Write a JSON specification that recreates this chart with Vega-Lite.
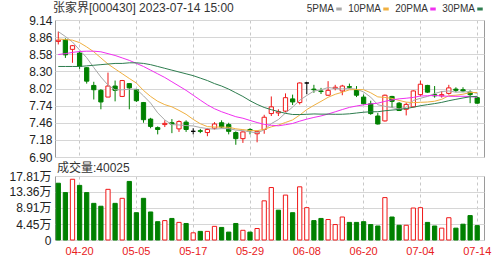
{
  "$schema": "https://vega.github.io/schema/vega-lite/v6.json",
  "background": "white",
  "padding": {"left": 4, "top": 1, "right": 20, "bottom": 2},
  "spacing": -3,
  "config": {
    "font": "Liberation Sans, Noto Sans CJK SC",
    "view": {"stroke": "#9a9a9a", "strokeWidth": 1},
    "axis": {"labelFont": "Liberation Sans, Noto Sans CJK SC", "labelColor": "#222222", "gridColor": "#d6d6d6", "gridWidth": 1, "labelOverlap": false},
    "title": {"font": "Liberation Sans, Noto Sans CJK SC", "fontWeight": "normal", "fontSize": 12, "color": "#333333"},
    "legend": {"labelFont": "Liberation Sans"}
  },
  "datasets": {
    "k": [
      {"d": "04-17", "o": 8.79, "h": 8.95, "l": 8.74, "c": 8.81, "dir": "up", "v": 15.8, "vdir": "down", "5PMA": 8.95, "10PMA": 8.83, "20PMA": 8.575, "30PMA": 8.38},
      {"d": "04-18", "o": 8.82, "h": 8.84, "l": 8.52, "c": 8.57, "dir": "down", "v": 13.2, "vdir": "down", "5PMA": 8.87, "10PMA": 8.82, "20PMA": 8.59, "30PMA": 8.38},
      {"d": "04-19", "o": 8.66, "h": 8.73, "l": 8.44, "c": 8.72, "dir": "up", "v": 16.9, "vdir": "up", "5PMA": 8.78, "10PMA": 8.81, "20PMA": 8.61, "30PMA": 8.38},
      {"d": "04-20", "o": 8.60, "h": 8.63, "l": 8.34, "c": 8.38, "dir": "down", "v": 15.2, "vdir": "down", "5PMA": 8.65, "10PMA": 8.77, "20PMA": 8.625, "30PMA": 8.38},
      {"d": "04-21", "o": 8.36, "h": 8.37, "l": 8.10, "c": 8.14, "dir": "down", "v": 13.2, "vdir": "down", "5PMA": 8.524, "10PMA": 8.70, "20PMA": 8.63, "30PMA": 8.39},
      {"d": "04-24", "o": 8.07, "h": 8.13, "l": 7.84, "c": 8.00, "dir": "down", "v": 10.2, "vdir": "down", "5PMA": 8.362, "10PMA": 8.62, "20PMA": 8.63, "30PMA": 8.40},
      {"d": "04-25", "o": 7.99, "h": 8.01, "l": 7.68, "c": 7.80, "dir": "down", "v": 9.4, "vdir": "down", "5PMA": 8.208, "10PMA": 8.52, "20PMA": 8.62, "30PMA": 8.41},
      {"d": "04-26", "o": 7.88, "h": 8.28, "l": 7.88, "c": 8.06, "dir": "up", "v": 14.1, "vdir": "up", "5PMA": 8.076, "10PMA": 8.42, "20PMA": 8.59, "30PMA": 8.42},
      {"d": "04-27", "o": 8.06, "h": 8.15, "l": 7.81, "c": 7.99, "dir": "down", "v": 10.2, "vdir": "down", "5PMA": 7.998, "10PMA": 8.34, "20PMA": 8.56, "30PMA": 8.43},
      {"d": "04-28", "o": 7.89, "h": 8.16, "l": 7.88, "c": 8.15, "dir": "up", "v": 11.6, "vdir": "up", "5PMA": 8.00, "10PMA": 8.262, "20PMA": 8.52, "30PMA": 8.43},
      {"d": "05-04", "o": 8.10, "h": 8.11, "l": 7.68, "c": 8.03, "dir": "down", "v": 16.3, "vdir": "down", "5PMA": 8.006, "10PMA": 8.184, "20PMA": 8.48, "30PMA": 8.44},
      {"d": "05-05", "o": 8.00, "h": 8.01, "l": 7.80, "c": 7.82, "dir": "down", "v": 7.6, "vdir": "down", "5PMA": 8.01, "10PMA": 8.109, "20PMA": 8.43, "30PMA": 8.44},
      {"d": "05-08", "o": 7.79, "h": 7.80, "l": 7.46, "c": 7.51, "dir": "down", "v": 11.6, "vdir": "down", "5PMA": 7.90, "10PMA": 7.988, "20PMA": 8.38, "30PMA": 8.43},
      {"d": "05-09", "o": 7.52, "h": 7.54, "l": 7.37, "c": 7.40, "dir": "down", "v": 7.8, "vdir": "down", "5PMA": 7.782, "10PMA": 7.89, "20PMA": 8.32, "30PMA": 8.41},
      {"d": "05-10", "o": 7.38, "h": 7.40, "l": 7.27, "c": 7.35, "dir": "down", "v": 5.1, "vdir": "down", "5PMA": 7.622, "10PMA": 7.811, "20PMA": 8.26, "30PMA": 8.38},
      {"d": "05-11", "o": 7.43, "h": 7.50, "l": 7.39, "c": 7.45, "dir": "up", "v": 5.4, "vdir": "up", "5PMA": 7.506, "10PMA": 7.756, "20PMA": 8.20, "30PMA": 8.35},
      {"d": "05-12", "o": 7.46, "h": 7.52, "l": 7.29, "c": 7.44, "dir": "down", "v": 6.0, "vdir": "down", "5PMA": 7.43, "10PMA": 7.72, "20PMA": 8.13, "30PMA": 8.32},
      {"d": "05-15", "o": 7.36, "h": 7.50, "l": 7.31, "c": 7.48, "dir": "up", "v": 4.9, "vdir": "up", "5PMA": 7.424, "10PMA": 7.662, "20PMA": 8.06, "30PMA": 8.29},
      {"d": "05-16", "o": 7.47, "h": 7.50, "l": 7.31, "c": 7.35, "dir": "down", "v": 4.6, "vdir": "down", "5PMA": 7.414, "10PMA": 7.598, "20PMA": 7.99, "30PMA": 8.26},
      {"d": "05-17", "o": 7.32, "h": 7.37, "l": 7.27, "c": 7.32, "dir": "flat", "v": 2.0, "vdir": "up", "5PMA": 7.408, "10PMA": 7.515, "20PMA": 7.91, "30PMA": 8.23},
      {"d": "05-18", "o": 7.33, "h": 7.36, "l": 7.29, "c": 7.32, "dir": "down", "v": 2.4, "vdir": "down", "5PMA": 7.382, "10PMA": 7.444, "20PMA": 7.83, "30PMA": 8.19},
      {"d": "05-19", "o": 7.30, "h": 7.37, "l": 7.24, "c": 7.35, "dir": "up", "v": 2.4, "vdir": "up", "5PMA": 7.364, "10PMA": 7.397, "20PMA": 7.753, "30PMA": 8.15},
      {"d": "05-22", "o": 7.37, "h": 7.47, "l": 7.35, "c": 7.44, "dir": "up", "v": 3.8, "vdir": "up", "5PMA": 7.356, "10PMA": 7.39, "20PMA": 7.689, "30PMA": 8.10},
      {"d": "05-23", "o": 7.46, "h": 7.50, "l": 7.37, "c": 7.39, "dir": "down", "v": 3.5, "vdir": "down", "5PMA": 7.364, "10PMA": 7.389, "20PMA": 7.64, "30PMA": 8.06},
      {"d": "05-24", "o": 7.43, "h": 7.46, "l": 7.27, "c": 7.32, "dir": "down", "v": 2.2, "vdir": "down", "5PMA": 7.364, "10PMA": 7.386, "20PMA": 7.599, "30PMA": 8.01},
      {"d": "05-25", "o": 7.30, "h": 7.32, "l": 7.10, "c": 7.20, "dir": "down", "v": 4.6, "vdir": "down", "5PMA": 7.34, "10PMA": 7.361, "20PMA": 7.559, "30PMA": 7.95},
      {"d": "05-26", "o": 7.20, "h": 7.32, "l": 7.13, "c": 7.31, "dir": "up", "v": 2.7, "vdir": "up", "5PMA": 7.332, "10PMA": 7.348, "20PMA": 7.534, "30PMA": 7.89},
      {"d": "05-29", "o": 7.35, "h": 7.37, "l": 7.27, "c": 7.33, "dir": "down", "v": 2.2, "vdir": "down", "5PMA": 7.31, "10PMA": 7.333, "20PMA": 7.498, "30PMA": 7.82},
      {"d": "05-30", "o": 7.28, "h": 7.33, "l": 7.14, "c": 7.32, "dir": "up", "v": 3.2, "vdir": "up", "5PMA": 7.296, "10PMA": 7.33, "20PMA": 7.464, "30PMA": 7.76},
      {"d": "05-31", "o": 7.35, "h": 7.59, "l": 7.28, "c": 7.55, "dir": "up", "v": 10.9, "vdir": "up", "5PMA": 7.342, "10PMA": 7.353, "20PMA": 7.434, "30PMA": 7.71},
      {"d": "06-01", "o": 7.61, "h": 7.89, "l": 7.57, "c": 7.72, "dir": "up", "v": 14.6, "vdir": "up", "5PMA": 7.446, "10PMA": 7.393, "20PMA": 7.419, "30PMA": 7.674},
      {"d": "06-02", "o": 7.62, "h": 7.68, "l": 7.57, "c": 7.64, "dir": "up", "v": 8.3, "vdir": "down", "5PMA": 7.512, "10PMA": 7.422, "20PMA": 7.41, "30PMA": 7.643},
      {"d": "06-05", "o": 7.65, "h": 7.94, "l": 7.63, "c": 7.87, "dir": "up", "v": 12.5, "vdir": "up", "5PMA": 7.62, "10PMA": 7.465, "20PMA": 7.428, "30PMA": 7.614},
      {"d": "06-06", "o": 7.85, "h": 7.92, "l": 7.75, "c": 7.80, "dir": "down", "v": 7.6, "vdir": "down", "5PMA": 7.716, "10PMA": 7.506, "20PMA": 7.448, "30PMA": 7.595},
      {"d": "06-07", "o": 7.79, "h": 8.12, "l": 7.76, "c": 8.11, "dir": "up", "v": 14.8, "vdir": "up", "5PMA": 7.828, "10PMA": 7.585, "20PMA": 7.486, "30PMA": 7.594},
      {"d": "06-08", "o": 8.11, "h": 8.12, "l": 7.93, "c": 8.11, "dir": "flat", "v": 9.0, "vdir": "up", "5PMA": 7.906, "10PMA": 7.676, "20PMA": 7.519, "30PMA": 7.598},
      {"d": "06-09", "o": 8.01, "h": 8.08, "l": 7.95, "c": 8.00, "dir": "down", "v": 5.4, "vdir": "down", "5PMA": 7.978, "10PMA": 7.745, "20PMA": 7.547, "30PMA": 7.604},
      {"d": "06-12", "o": 7.98, "h": 8.03, "l": 7.93, "c": 7.97, "dir": "down", "v": 6.0, "vdir": "down", "5PMA": 7.998, "10PMA": 7.809, "20PMA": 7.571, "30PMA": 7.601},
      {"d": "06-13", "o": 7.91, "h": 8.14, "l": 7.90, "c": 7.99, "dir": "up", "v": 5.7, "vdir": "up", "5PMA": 8.036, "10PMA": 7.876, "20PMA": 7.603, "30PMA": 7.601},
      {"d": "06-14", "o": 8.02, "h": 8.08, "l": 7.99, "c": 8.04, "dir": "up", "v": 4.3, "vdir": "up", "5PMA": 8.022, "10PMA": 7.925, "20PMA": 7.639, "30PMA": 7.598},
      {"d": "06-15", "o": 7.98, "h": 8.08, "l": 7.91, "c": 8.06, "dir": "up", "v": 6.4, "vdir": "up", "5PMA": 8.012, "10PMA": 7.959, "20PMA": 7.676, "30PMA": 7.599},
      {"d": "06-16", "o": 8.05, "h": 8.10, "l": 8.02, "c": 8.04, "dir": "down", "v": 4.9, "vdir": "down", "5PMA": 8.02, "10PMA": 7.999, "20PMA": 7.711, "30PMA": 7.606},
      {"d": "06-19", "o": 8.00, "h": 8.06, "l": 7.88, "c": 7.91, "dir": "down", "v": 4.9, "vdir": "down", "5PMA": 8.008, "10PMA": 8.003, "20PMA": 7.734, "30PMA": 7.619},
      {"d": "06-20", "o": 7.88, "h": 7.92, "l": 7.76, "c": 7.77, "dir": "down", "v": 5.1, "vdir": "down", "5PMA": 7.964, "10PMA": 8.00, "20PMA": 7.753, "30PMA": 7.632},
      {"d": "06-21", "o": 7.77, "h": 7.82, "l": 7.59, "c": 7.61, "dir": "down", "v": 4.3, "vdir": "down", "5PMA": 7.878, "10PMA": 7.95, "20PMA": 7.768, "30PMA": 7.64},
      {"d": "06-26", "o": 7.57, "h": 7.62, "l": 7.43, "c": 7.44, "dir": "down", "v": 3.9, "vdir": "down", "5PMA": 7.754, "10PMA": 7.883, "20PMA": 7.78, "30PMA": 7.64},
      {"d": "06-27", "o": 7.49, "h": 7.92, "l": 7.48, "c": 7.91, "dir": "up", "v": 11.8, "vdir": "up", "5PMA": 7.728, "10PMA": 7.874, "20PMA": 7.81, "30PMA": 7.656},
      {"d": "06-28", "o": 7.89, "h": 7.90, "l": 7.70, "c": 7.81, "dir": "down", "v": 6.4, "vdir": "down", "5PMA": 7.708, "10PMA": 7.858, "20PMA": 7.834, "30PMA": 7.667},
      {"d": "06-29", "o": 7.78, "h": 7.80, "l": 7.66, "c": 7.66, "dir": "down", "v": 4.1, "vdir": "down", "5PMA": 7.686, "10PMA": 7.825, "20PMA": 7.851, "30PMA": 7.677},
      {"d": "06-30", "o": 7.68, "h": 7.79, "l": 7.58, "c": 7.76, "dir": "up", "v": 4.1, "vdir": "up", "5PMA": 7.716, "10PMA": 7.797, "20PMA": 7.861, "30PMA": 7.692},
      {"d": "07-03", "o": 7.72, "h": 7.99, "l": 7.71, "c": 7.98, "dir": "up", "v": 8.9, "vdir": "up", "5PMA": 7.824, "10PMA": 7.789, "20PMA": 7.874, "30PMA": 7.714},
      {"d": "07-04", "o": 7.92, "h": 8.15, "l": 7.89, "c": 8.09, "dir": "up", "v": 9.0, "vdir": "up", "5PMA": 7.86, "10PMA": 7.794, "20PMA": 7.897, "30PMA": 7.738},
      {"d": "07-05", "o": 8.07, "h": 8.08, "l": 7.95, "c": 7.96, "dir": "down", "v": 4.9, "vdir": "down", "5PMA": 7.89, "10PMA": 7.799, "20PMA": 7.901, "30PMA": 7.756},
      {"d": "07-06", "o": 7.92, "h": 8.06, "l": 7.87, "c": 7.90, "dir": "down", "v": 3.9, "vdir": "down", "5PMA": 7.938, "10PMA": 7.812, "20PMA": 7.906, "30PMA": 7.773},
      {"d": "07-07", "o": 7.90, "h": 7.98, "l": 7.87, "c": 7.92, "dir": "up", "v": 3.3, "vdir": "up", "5PMA": 7.97, "10PMA": 7.843, "20PMA": 7.897, "30PMA": 7.793},
      {"d": "07-10", "o": 7.94, "h": 8.08, "l": 7.92, "c": 8.03, "dir": "up", "v": 6.2, "vdir": "up", "5PMA": 7.98, "10PMA": 7.902, "20PMA": 7.893, "30PMA": 7.82},
      {"d": "07-11", "o": 8.01, "h": 8.04, "l": 7.96, "c": 7.99, "dir": "down", "v": 3.3, "vdir": "down", "5PMA": 7.96, "10PMA": 7.91, "20PMA": 7.892, "30PMA": 7.843},
      {"d": "07-12", "o": 8.00, "h": 8.04, "l": 7.96, "c": 7.98, "dir": "down", "v": 4.4, "vdir": "down", "5PMA": 7.964, "10PMA": 7.927, "20PMA": 7.893, "30PMA": 7.865},
      {"d": "07-13", "o": 7.96, "h": 7.99, "l": 7.78, "c": 7.92, "dir": "down", "v": 6.8, "vdir": "down", "5PMA": 7.968, "10PMA": 7.953, "20PMA": 7.889, "30PMA": 7.885},
      {"d": "07-14", "o": 7.87, "h": 7.89, "l": 7.77, "c": 7.78, "dir": "down", "v": 4.0025, "vdir": "down", "5PMA": 7.94, "10PMA": 7.955, "20PMA": 7.876, "30PMA": 7.892}
    ]
  },
  "vconcat": [
    {
      "width": 429,
      "height": 137,
      "data": {"name": "k"},
      "title": {"text": "张家界[000430] 2023-07-14 15:00", "anchor": "start", "frame": "group", "offset": -1, "dx": -2},
      "layer": [
        {
          "mark": {"type": "rule", "strokeWidth": 1},
          "encoding": {
            "x": {"field": "d", "type": "ordinal", "sort": null, "title": null,
              "scale": {"type": "band", "paddingInner": 0.4, "paddingOuter": 0.41, "align": 0.2},
              "axis": {"values": ["04-20", "05-05", "05-17", "05-29", "06-08", "06-20", "07-04", "07-14"], "labels": false, "ticks": false, "domain": false, "grid": true, "gridDash": [3, 3], "gridColor": "#c8c8c8", "bandPosition": 0.5, "minExtent": 0, "maxExtent": 0}},
            "y": {"field": "l", "type": "quantitative", "title": null,
              "scale": {"domain": [6.9, 9.14], "nice": false, "zero": false},
              "axis": {"values": [6.9, 7.18, 7.46, 7.74, 8.02, 8.3, 8.58, 8.86, 9.14], "format": ".2f", "ticks": false, "domain": false, "grid": true, "labelPadding": 3, "labelFontSize": 12, "labelOverlap": false, "minExtent": 50, "maxExtent": 50}},
            "y2": {"field": "h"},
            "stroke": {"field": "dir", "type": "nominal", "scale": {"domain": ["up", "down", "flat"], "range": ["#f01818", "#008000", "#000000"]}, "legend": null}
          }
        },
        {
          "mark": {"type": "bar", "strokeWidth": 1},
          "encoding": {
            "x": {"field": "d", "type": "ordinal", "sort": null},
            "y": {"field": "o", "type": "quantitative", "title": null, "scale": {"domain": [6.9, 9.14], "nice": false, "zero": false},
              "axis": {"values": [6.9, 7.18, 7.46, 7.74, 8.02, 8.3, 8.58, 8.86, 9.14], "format": ".2f", "ticks": false, "domain": false, "grid": true, "labelPadding": 3, "labelFontSize": 12, "labelOverlap": false, "minExtent": 50, "maxExtent": 50}},
            "y2": {"field": "c"},
            "fill": {"field": "dir", "type": "nominal", "scale": {"domain": ["up", "down", "flat"], "range": ["#ffffff", "#008000", "#000000"]}, "legend": null},
            "stroke": {"field": "dir", "type": "nominal", "legend": null}
          }
        },
        {
          "transform": [{"fold": ["5PMA", "10PMA", "20PMA", "30PMA"], "as": ["k", "val"]}],
          "mark": {"type": "line", "strokeWidth": 1},
          "encoding": {
            "x": {"field": "d", "type": "ordinal", "sort": null},
            "y": {"field": "val", "type": "quantitative", "title": null, "scale": {"domain": [6.9, 9.14], "nice": false, "zero": false},
              "axis": {"values": [6.9, 7.18, 7.46, 7.74, 8.02, 8.3, 8.58, 8.86, 9.14], "format": ".2f", "ticks": false, "domain": false, "grid": true, "labelPadding": 3, "labelFontSize": 12, "labelOverlap": false, "minExtent": 50, "maxExtent": 50}},
            "color": {"field": "k", "type": "nominal",
              "scale": {"domain": ["5PMA", "10PMA", "20PMA", "30PMA"], "range": ["#a8a8a8", "#f0b040", "#f030f0", "#2e7d4f"]},
              "legend": {"orient": "none", "legendX": 279, "legendY": -16, "direction": "horizontal", "title": null,
                "symbolType": "M-1,0H1", "symbolSize": 30, "symbolStrokeWidth": 3, "labelFontSize": 10, "labelColor": "#333333",
                "labelAlign": "right", "labelOffset": -10, "columnPadding": 0}}
          }
        }
      ]
    },
    {
      "width": 429,
      "height": 64,
      "data": {"name": "k"},
      "title": {"text": "成交量:40025", "anchor": "start", "frame": "group", "offset": -5, "dx": 2},
      "mark": {"type": "bar", "strokeWidth": 1},
      "encoding": {
        "x": {"field": "d", "type": "ordinal", "sort": null, "title": null,
          "scale": {"type": "band", "paddingInner": 0.4, "paddingOuter": 0.41, "align": 0.2},
          "axis": {"values": ["04-20", "05-05", "05-17", "05-29", "06-08", "06-20", "07-04", "07-14"], "labelColor": "#e8201c", "labelFontSize": 11, "labelAngle": 0, "labelPadding": 5, "ticks": false, "domain": false, "grid": true, "gridDash": [3, 3], "gridColor": "#c8c8c8", "bandPosition": 0.5, "labelOverlap": false}},
        "y": {"field": "v", "type": "quantitative", "title": null,
          "scale": {"domain": [0, 17.81], "nice": false},
          "axis": {"values": [0, 4.45, 8.91, 13.36, 17.81], "labelExpr": "datum.value === 0 ? '0' : format(datum.value, '.2f') + '万'", "ticks": false, "domain": false, "grid": true, "labelPadding": 4, "labelFontSize": 12, "labelOverlap": false, "minExtent": 50, "maxExtent": 50}},
        "fill": {"field": "vdir", "type": "nominal", "scale": {"domain": ["up", "down"], "range": ["#ffffff", "#008000"]}, "legend": null},
        "stroke": {"field": "vdir", "type": "nominal", "scale": {"domain": ["up", "down"], "range": ["#f01818", "#008000"]}, "legend": null}
      }
    }
  ]
}
